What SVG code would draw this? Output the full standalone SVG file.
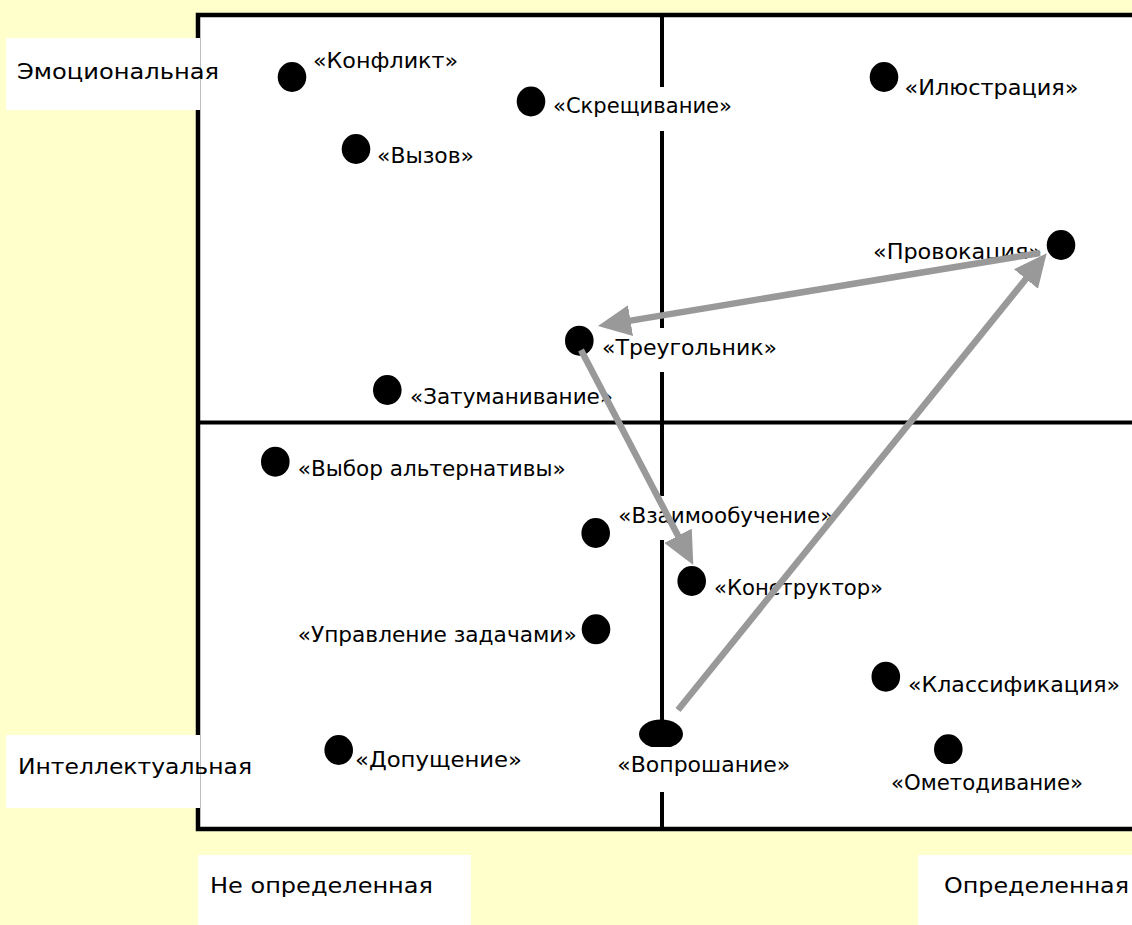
<svg xmlns="http://www.w3.org/2000/svg" width="1132" height="925" viewBox="0 0 1132 925">
<style>
.bg{fill:#FFFFCC}
.frame{fill:#FFFFFF;stroke:#000000;stroke-width:4.5}
.axis{stroke:#000000;stroke-width:4;fill:none}
.box{fill:#FFFFFF;stroke:none}
.dot{fill:#000000}
.t{font-family:"DejaVu Sans","Liberation Sans",sans-serif;font-size:21.5px;fill:#000000}
.ax{font-family:"DejaVu Sans","Liberation Sans",sans-serif;font-size:22px;fill:#000000}
.arr{stroke:#999999;stroke-width:6.5;fill:none;marker-end:url(#head)}
</style>
<defs>
<marker id="head" viewBox="0 0 33 31" markerWidth="33" markerHeight="31" markerUnits="userSpaceOnUse" refX="6" refY="15.5" orient="auto">
<path d="M0,0 L33,15.5 L0,31 z" fill="#999999"/>
</marker>
</defs>
<rect class="bg" x="0" y="0" width="1132" height="925"/>
<g id="frame">
<rect class="frame" x="198" y="15" width="1000" height="814"/>
<line class="axis" x1="662" y1="15" x2="662" y2="829"/>
<line class="axis" x1="198" y1="422.5" x2="1132" y2="422.5"/>
</g>
<g id="axis-labels">
<g id="lbl-emo"><rect class="box" x="6" y="38" width="194" height="72"/><text class="ax" x="17" y="79" textLength="202" lengthAdjust="spacingAndGlyphs">Эмоциональная</text></g>
<g id="lbl-int"><rect class="box" x="6" y="735" width="194" height="73"/><text class="ax" x="18" y="774" textLength="234" lengthAdjust="spacingAndGlyphs">Интеллектуальная</text></g>
<g id="lbl-neopr"><rect class="box" x="198" y="855" width="273" height="70"/><text class="ax" x="210" y="893" textLength="223" lengthAdjust="spacingAndGlyphs">Не определенная</text></g>
<g id="lbl-opr"><rect class="box" x="918" y="855" width="214" height="70"/><text class="ax" x="944" y="893" textLength="185" lengthAdjust="spacingAndGlyphs">Определенная</text></g>
</g>
<g id="n-konflikt"><rect class="box" x="309" y="41" width="153" height="44"/><ellipse class="dot" cx="292" cy="77" rx="14.3" ry="15"/><text class="t" x="313" y="68" textLength="145" lengthAdjust="spacingAndGlyphs">«Конфликт»</text></g>
<g id="n-skresh"><rect class="box" x="549" y="87" width="187" height="44"/><ellipse class="dot" cx="531" cy="101.5" rx="14.3" ry="15"/><text class="t" x="553" y="113" textLength="179" lengthAdjust="spacingAndGlyphs">«Скрещивание»</text></g>
<g id="n-ilustr"><rect class="box" x="900" y="68" width="182" height="44"/><ellipse class="dot" cx="884" cy="77" rx="14.3" ry="15"/><text class="t" x="904.5" y="95" textLength="174" lengthAdjust="spacingAndGlyphs">«Илюстрация»</text></g>
<g id="n-vyzov"><rect class="box" x="373" y="136" width="105" height="44"/><ellipse class="dot" cx="356" cy="149" rx="14.3" ry="15"/><text class="t" x="377" y="163" textLength="97" lengthAdjust="spacingAndGlyphs">«Вызов»</text></g>
<g id="n-provok"><rect class="box" x="869" y="232" width="176" height="44"/><ellipse class="dot" cx="1061" cy="245" rx="14.3" ry="15"/><text class="t" x="873" y="259" textLength="169" lengthAdjust="spacingAndGlyphs">«Провокация»</text></g>
<g id="n-treug"><rect class="box" x="598" y="328" width="183" height="44"/><ellipse class="dot" cx="579.3" cy="340.7" rx="14.3" ry="15"/><text class="t" x="602" y="355" textLength="175" lengthAdjust="spacingAndGlyphs">«Треугольник»</text></g>
<g id="n-zatum"><rect class="box" x="406" y="377" width="211" height="43"/><ellipse class="dot" cx="387.3" cy="390" rx="14.3" ry="15"/><text class="t" x="410" y="404" textLength="203" lengthAdjust="spacingAndGlyphs">«Затуманивание»</text></g>
<g id="n-vybor"><rect class="box" x="294" y="449" width="276" height="44"/><ellipse class="dot" cx="275.3" cy="461.7" rx="14.3" ry="15"/><text class="t" x="297.7" y="475.7" textLength="268" lengthAdjust="spacingAndGlyphs">«Выбор альтернативы»</text></g>
<g id="n-vzaim"><rect class="box" x="614" y="496" width="223" height="44"/><ellipse class="dot" cx="595.7" cy="533" rx="14.3" ry="15"/><text class="t" x="618.3" y="523.3" textLength="215" lengthAdjust="spacingAndGlyphs">«Взаимообучение»</text></g>
<g id="n-konstr"><rect class="box" x="710" y="568" width="177" height="44"/><ellipse class="dot" cx="691.7" cy="581" rx="14.3" ry="15"/><text class="t" x="714" y="595" textLength="169" lengthAdjust="spacingAndGlyphs">«Конструктор»</text></g>
<g id="n-upravl"><rect class="box" x="294" y="615" width="286" height="44"/><ellipse class="dot" cx="596" cy="629.3" rx="14.3" ry="15"/><text class="t" x="297.7" y="641.7" textLength="279" lengthAdjust="spacingAndGlyphs">«Управление задачами»</text></g>
<g id="n-klass"><rect class="box" x="904" y="665" width="220" height="44"/><ellipse class="dot" cx="885.8" cy="676.7" rx="14.3" ry="15"/><text class="t" x="908" y="691.7" textLength="212" lengthAdjust="spacingAndGlyphs">«Классификация»</text></g>
<g id="n-dopush"><rect class="box" x="355" y="740" width="171" height="44"/><ellipse class="dot" cx="338.7" cy="750" rx="14.3" ry="15"/><text class="t" x="355" y="767.3" textLength="167" lengthAdjust="spacingAndGlyphs">«Допущение»</text></g>
<g id="n-voprosh"><ellipse class="dot" cx="661" cy="734" rx="22" ry="14.5"/><rect class="box" x="613" y="747" width="181" height="45"/><text class="t" x="617.3" y="771.7" textLength="173" lengthAdjust="spacingAndGlyphs">«Вопрошание»</text></g>
<g id="n-ometod"><ellipse class="dot" cx="948.3" cy="749.3" rx="14.3" ry="15"/><rect class="box" x="887" y="764" width="200" height="44"/><text class="t" x="891" y="790" textLength="192" lengthAdjust="spacingAndGlyphs">«Ометодивание»</text></g>
<g id="connectors">
<line class="arr" x1="1040" y1="253" x2="624.6" y2="321.6"/>
<line class="arr" x1="581" y1="350" x2="680.8" y2="541.1"/>
<line class="arr" x1="678" y1="710" x2="1029.7" y2="274.3"/>
</g>
</svg>
